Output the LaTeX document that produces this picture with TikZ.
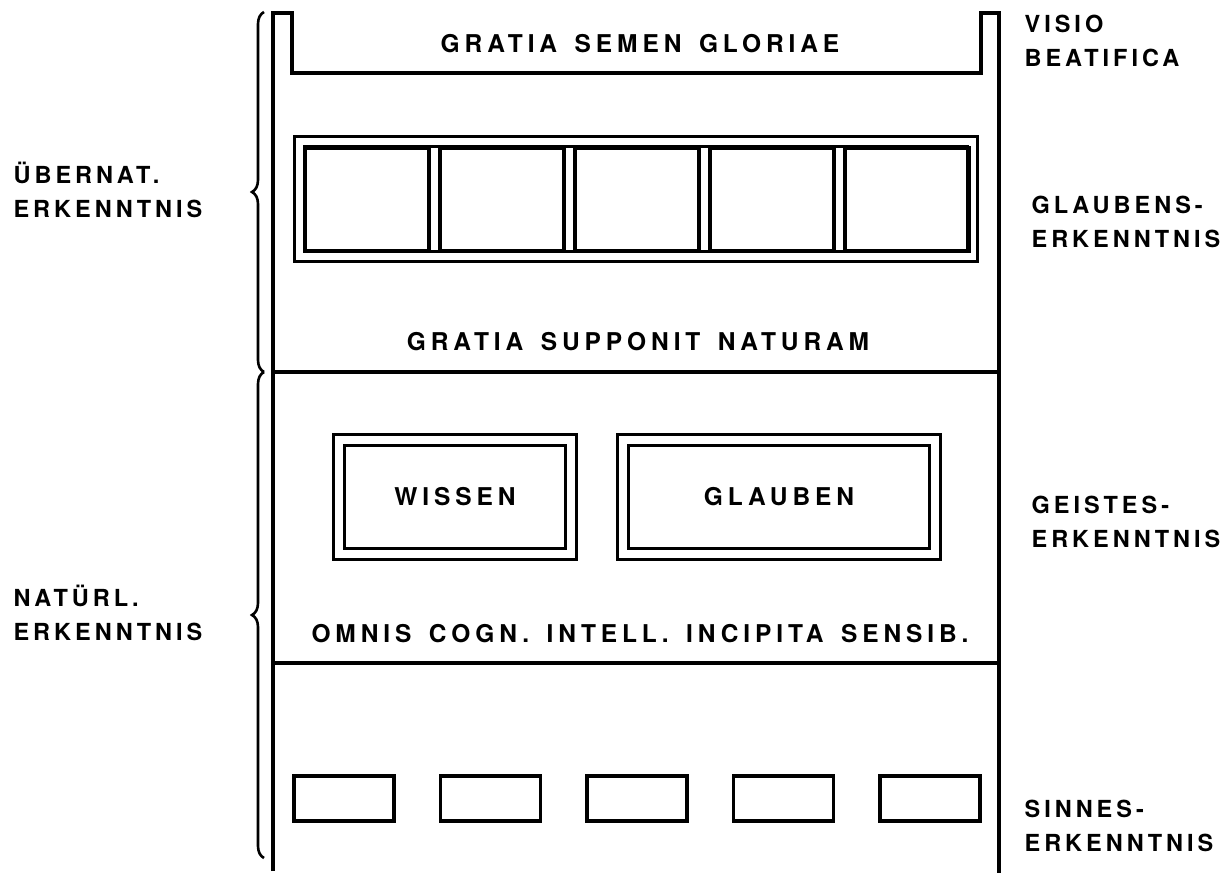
\documentclass[tikz,border=0pt]{standalone}
\usepackage{fontspec}
\newfontfamily\labfont[LetterSpace=17]{TeX Gyre Heros}
\newfontfamily\midfont[LetterSpace=20,WordSpace=1.5]{TeX Gyre Heros}
\usetikzlibrary{positioning,decorations.pathreplacing}

\begin{document}
\begin{tikzpicture}[x=1pt, y=-1pt, line width=3.2pt, line join=miter,
    lab/.style={font=\labfont\bfseries\fontsize{23.5}{33.5}\selectfont, inner sep=0pt, align=left},
    mid/.style={font=\midfont\bfseries\fontsize{24.5}{30}\selectfont, inner sep=0pt},
    dbox/.style={draw, double, double distance=7.3pt, line width=3.2pt, inner sep=0pt, mid},
    cellbox/.style={draw, line width=3.2pt, minimum width=124pt, minimum height=103pt, inner sep=0pt},
    sensebox/.style={draw, line width=3.2pt, minimum width=100pt, minimum height=45pt, inner sep=0pt},
    brace/.style={decorate, decoration={brace, amplitude=12pt}, line width=2.6pt}]
  \useasboundingbox (0,0) rectangle (1229,873);
  % frame with the cup on top
  \draw (273,871) -- (273,13) -- (292,13) -- (292,73) -- (981,73) -- (981,13)
    -- (999,13) -- (999,873);
  \draw (273,372) -- (999,372);
  \draw (273,663) -- (999,663);
  % braces
  \draw[brace] (264,372) -- (264,12);
  \draw[brace] (264,858) -- (264,372);
  % upper part
  \node[mid] (semen) at (640,44) {GRATIA SEMEN GLORIAE};
  \node[dbox, minimum width=673pt, minimum height=115pt] (faith) at (636,199) {};
  \foreach \i in {0,...,4}
    \node[cellbox] (cell\i) at ({367+135*\i},199.5) {};
  \node[mid] (supponit) at (638,342) {GRATIA SUPPONIT NATURAM};
  % middle part
  \node[dbox, minimum width=232pt, minimum height=114pt] (wissen) at (455,497) {WISSEN};
  \node[dbox, minimum width=312pt, minimum height=114pt] (glauben) at (779,497) {GLAUBEN};
  \node[mid] (omnis) at (640,634) {OMNIS COGN. INTELL. INCIPITA SENSIB.};
  % lower part
  \foreach \i in {0,...,4}
    \node[sensebox] (sense\i) at ({344+146.5*\i},798.5) {};
  % side labels
  \node[lab, anchor=west] (uebernat) at (12,190) {ÜBERNAT.\\ERKENNTNIS};
  \node[lab, anchor=west] (natuerl) at (12,613) {NATÜRL.\\ERKENNTNIS};
  \node[lab, anchor=west] (visio) at (1023,41) {VISIO\\BEATIFICA};
  \node[lab, anchor=west] (glaubens) at (1030,222) {GLAUBENS-\\ERKENNTNIS};
  \node[lab, anchor=west] (geistes) at (1030,522) {GEISTES-\\ERKENNTNIS};
  \node[lab, anchor=west] (sinnes) at (1023,826) {SINNES-\\ERKENNTNIS};
\end{tikzpicture}
\end{document}
